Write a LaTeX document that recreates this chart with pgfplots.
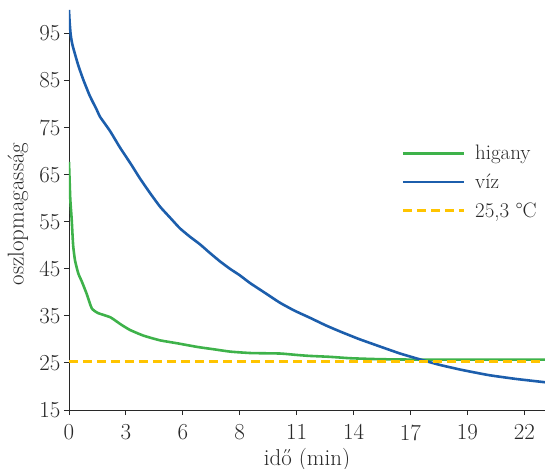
\documentclass[border=0pt]{standalone}
\usepackage{pgfplots}
\pgfplotsset{compat=1.18}
\usepackage{fontspec}
\setmainfont{Latin Modern Roman}

\definecolor{higanyc}{RGB}{62,178,74}
\definecolor{vizc}{RGB}{28,94,172}
\definecolor{refc}{RGB}{255,196,0}
\definecolor{txt}{RGB}{40,40,40}

\begin{document}
\begin{tikzpicture}
  \useasboundingbox (-69bp,-59bp) rectangle (476bp,410bp);
  \begin{axis}[
    at={(0,0)}, anchor=south west,
    scale only axis,
    width=476bp, height=400bp,
    xmin=0, xmax=23,
    ymin=15, ymax=100,
    axis lines=left,
    axis line style={-, txt, line width=0.9pt},
    tick align=outside,
    major tick length=5bp,
    tick style={txt, line width=0.9pt},
    xtick={0,2.75,5.5,8.25,11,13.75,16.5,19.25,22},
    xticklabels={0,3,6,8,11,14,17,19,22},
    ytick={15,25,...,95},
    tick label style={font=\fontsize{23}{26}\selectfont, text=txt},
    xticklabel style={yshift=-6bp},
    /pgf/number format/assume math mode=true,
    xlabel={idő (min)},
    ylabel={oszlopmagasság},
    label style={font=\fontsize{23}{26}\selectfont, text=txt},
    xlabel style={at={(axis description cs:0.5,0)}, anchor=center, yshift=-50bp},
    ylabel style={at={(axis description cs:-0.107,0.49)}, anchor=center, rotate=0},
    legend style={
      at={(axis description cs:0.692,0.672)},
      anchor=north west,
      draw=none, fill=none,
      font=\fontsize{21}{24}\selectfont,
      text=txt,
      row sep=8.5bp,
    },
    legend cell align=left,
    legend image code/.code={
      \draw[#1] (0bp,0bp) -- (61bp,0bp);
    },
  ]
    % higany
    \addplot[higanyc, line width=2.6pt, smooth, tension=0.3] coordinates {
      (0,67.7) (0.06,60) (0.13,55.5) (0.2,50) (0.29,46.8) (0.45,44) (0.63,42.2)
      (0.87,39.5) (1.1,36.6) (1.4,35.6) (2.0,34.7) (2.5,33.2) (2.95,32.0)
      (3.6,30.8) (4.4,29.8) (5.2,29.2) (6.2,28.4) (7.0,27.9) (7.8,27.4)
      (8.8,27.1) (10.2,27.0) (11,26.7) (11.6,26.5) (12.6,26.3) (13.6,26.0)
      (15,25.8) (17,25.7) (23,25.7)
    };
    \addlegendentry{\hspace*{8bp}higany}

    % víz
    \addplot[vizc, line width=2.6pt, smooth, tension=0.3] coordinates {
      (0,100) (0.03,97.5) (0.08,94.8) (0.15,92.9) (0.24,91.4) (0.45,88.2)
      (0.69,85.2) (1.0,81.8) (1.34,78.8) (1.5,77.3) (1.98,74.3) (2.46,70.8)
      (3.0,67.2) (3.43,64.2) (3.9,61.2) (4.4,58.2) (4.9,55.8) (5.36,53.6)
      (5.85,51.8) (6.33,50.2) (6.8,48.4) (7.29,46.6) (7.78,45.0) (8.26,43.6)
      (8.74,42.0) (9.5,39.8) (10.19,37.8) (10.9,36.1) (11.64,34.6) (12.4,33.0)
      (13.09,31.7) (14.0,30.1) (15.02,28.5) (16.0,27.0) (17.0,25.7)
      (17.9,24.6) (19.0,23.5) (20.3,22.4) (21.6,21.6) (23,20.9)
    };
    \addlegendentry{\hspace*{8bp}víz}

    % 25,3 °C
    \addplot[refc, line width=2.2pt, dash pattern=on 9bp off 5bp] coordinates {
      (0,25.3) (23,25.3)
    };
    \addlegendentry{\hspace*{8bp}25,3 °C}
  \end{axis}
\end{tikzpicture}
\end{document}
